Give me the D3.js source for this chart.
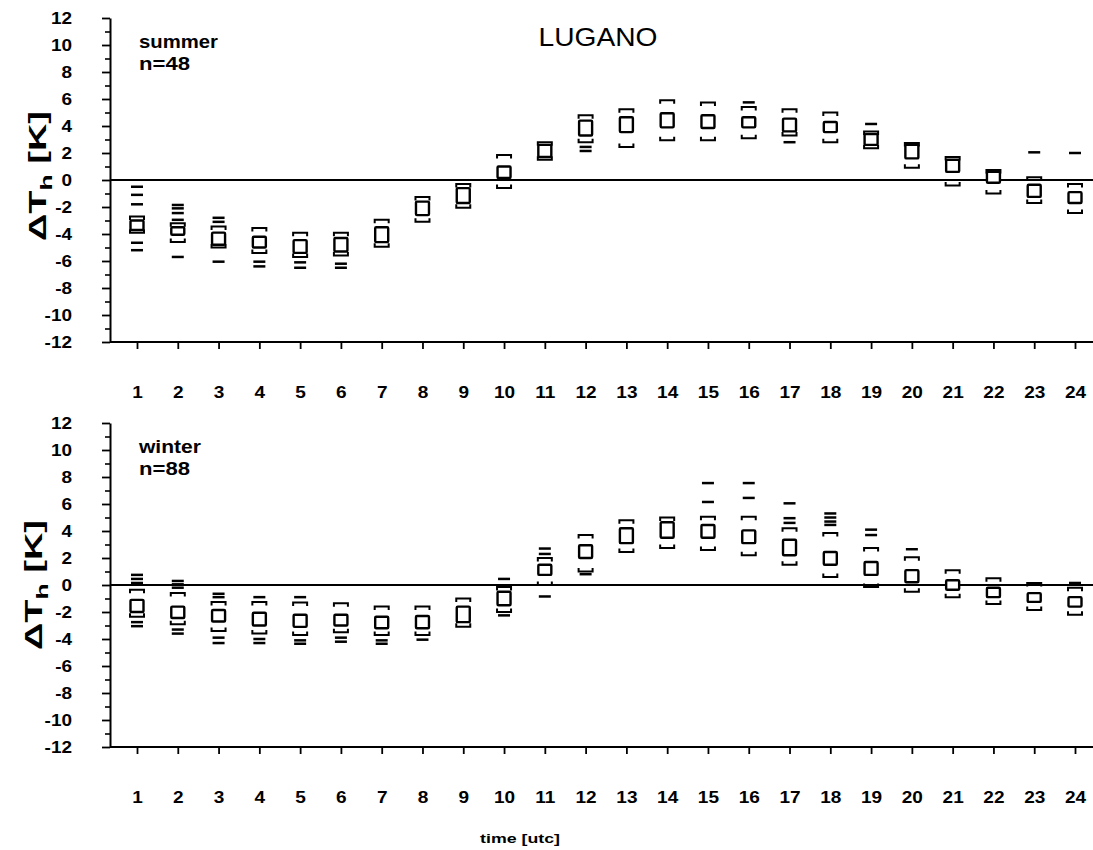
<!DOCTYPE html>
<html><head><meta charset="utf-8">
<script src="https://cdn.jsdelivr.net/npm/d3@7"></script>
<style>
body{margin:0;background:#fff;}
text{font-family:"Liberation Sans",Arial,Helvetica,sans-serif;fill:#000;}
</style></head>
<body><svg id="c" width="1093" height="850"></svg>
<script>
const hours = d3.range(1, 25);
const yTicks = d3.range(-12, 13, 2);
const yMinor = d3.range(-11, 12, 2);

// summer (n=48)
const summerHi = [-2.7,-3.2,-3.45,-3.55,-3.9,-3.9,-2.95,-1.25,-0.3,1.85,2.8,4.8,5.25,5.9,5.75,5.4,5.25,5.0,3.6,2.75,1.7,0.75,0.2,-0.3];
const summerQ3 = [-3.0,-3.5,-3.9,-4.2,-4.45,-4.3,-3.5,-1.6,-0.6,1.0,2.6,4.4,4.65,4.95,4.8,4.65,4.55,4.3,3.4,2.6,1.5,0.6,-0.35,-0.9];
const summerQ1 = [-3.7,-4.05,-4.8,-5.0,-5.4,-5.3,-4.6,-2.6,-1.7,0.15,1.7,3.3,3.55,3.9,3.85,3.9,3.6,3.55,2.6,1.6,0.6,-0.2,-1.25,-1.7];
const summerLo = [-3.9,-4.6,-5.0,-5.4,-5.7,-5.6,-4.95,-3.1,-2.05,-0.6,1.5,2.8,2.45,2.95,2.95,3.1,3.3,2.8,2.35,0.9,-0.4,-1.0,-1.7,-2.45];
const summerOut = [[-0.5,-1.1,-1.8,-4.65,-5.2],[-1.85,-2.1,-2.45,-2.95,-5.7],[-2.8,-3.1,-6.05],[-6.05,-6.4],[-6.1,-6.5],[-6.2,-6.5],[],[],[],[],[],[2.45,2.15],[],[],[],[5.75],[2.8],[],[4.15],[],[],[],[2.05],[2.0]];

// winter (n=88)
const winterHi = [-0.35,-0.6,-1.25,-1.25,-1.3,-1.35,-1.6,-1.6,-1.0,-0.15,2.0,3.7,4.8,5.0,5.05,5.05,4.2,3.85,2.75,2.05,1.1,0.5,0.15,-0.2];
const winterQ3 = [-1.1,-1.6,-1.85,-2.05,-2.2,-2.2,-2.35,-2.3,-1.6,-0.5,1.5,2.95,4.2,4.65,4.45,4.05,3.35,2.45,1.7,1.1,0.35,-0.2,-0.6,-0.9];
const winterQ1 = [-2.0,-2.45,-2.7,-3.0,-3.1,-3.0,-3.2,-3.2,-2.75,-1.5,0.75,2.0,3.1,3.5,3.5,3.1,2.2,1.5,0.75,0.2,-0.35,-0.9,-1.25,-1.6];
const winterLo = [-2.35,-2.9,-3.4,-3.6,-3.7,-3.5,-3.7,-3.7,-3.1,-2.0,0.0,1.0,2.45,2.75,2.6,2.2,1.5,0.6,-0.15,-0.5,-0.9,-1.4,-1.85,-2.2];
const winterOut = [[0.75,0.45,0.15,-2.75,-3.05],[0.3,0.05,-0.2,-3.3,-3.6],[-0.65,-0.9,-3.9,-4.3],[-0.9,-4.0,-4.3],[-0.9,-4.1,-4.35],[-3.9,-4.2],[-4.1,-4.35],[-4.05],[],[0.45,-2.25],[2.7,2.3,-0.85],[0.8],[],[],[7.55,6.15],[7.55,6.45],[6.05,4.95,4.6],[5.3,5.0,4.7,4.45],[4.1,3.7],[2.65],[],[],[],[0.15]];

const svg = d3.select("#c");
const W = 1093;

function stretch(sel, target){
  sel.each(function(){
    const t = d3.select(this);
    const len = this.getComputedTextLength();
    const k = target/len;
    const cur = t.attr("transform") || "";
    t.attr("transform", cur + ` scale(${k},1)`);
  });
}

function panel(cfg){
  const x = d3.scaleLinear().domain([1,24]).range([137,1075]);
  const y = d3.scaleLinear().domain([-12,12]).range([cfg.bottom, cfg.top]);
  const g = svg.append("g");
  const axX = 110;

  // y axis major
  const ya = g.append("g").attr("transform",`translate(${axX},0)`)
    .call(d3.axisLeft(y).tickValues(yTicks).tickSize(8).tickSizeOuter(0).tickPadding(31).tickFormat(d=>d));
  ya.select(".domain").attr("stroke-width",2);
  ya.selectAll(".tick line").attr("stroke-width",1.8);
  ya.selectAll("text").attr("font-size",16.5).attr("font-weight","bold").attr("font-family","Liberation Sans, Arial, sans-serif")
    .attr("x",0).attr("transform","translate(-38,0) scale(1.15,1)");
  // minor
  const ym = g.append("g").attr("transform",`translate(${axX},0)`)
    .call(d3.axisLeft(y).tickValues(yMinor).tickSize(5).tickFormat(""));
  ym.select(".domain").remove();
  ym.selectAll(".tick line").attr("stroke-width",1.6);

  // x axis
  const xa = g.append("g").attr("transform",`translate(0,${cfg.bottom})`)
    .call(d3.axisBottom(x).tickValues(hours).tickSize(7).tickPadding(37).tickFormat(d=>d));
  xa.select(".domain").remove();
  xa.selectAll(".tick line").attr("stroke-width",1.8);
  xa.selectAll("text").attr("font-size",17).attr("font-weight","bold").attr("font-family","Liberation Sans, Arial, sans-serif")
    .attr("transform","scale(1.12,1)");
  g.append("line").attr("x1",axX).attr("x2",W).attr("y1",cfg.bottom).attr("y2",cfg.bottom)
    .attr("stroke","#000").attr("stroke-width",2.2);
  // zero line
  g.append("line").attr("x1",axX).attr("x2",W).attr("y1",y(0)).attr("y2",y(0))
    .attr("stroke","#000").attr("stroke-width",2.2);

  const data = hours.map((h,i)=>({h, hi:cfg.hi[i], q3:cfg.q3[i], q1:cfg.q1[i], lo:cfg.lo[i], out:cfg.out[i]}));
  const bw = 7;
  const bx = g.append("g").selectAll("g").data(data).join("g")
    .attr("transform", d=>`translate(${x(d.h)},0)`);
  bx.append("path").attr("fill","none").attr("stroke","#000").attr("stroke-width",2)
    .attr("d", d=>`M${-bw},${y(d.hi)+3.5}V${y(d.hi)}H${bw}V${y(d.hi)+3.5}`);
  bx.append("path").attr("fill","none").attr("stroke","#000").attr("stroke-width",2)
    .attr("d", d=>`M${-bw},${y(d.lo)-3.5}V${y(d.lo)}H${bw}V${y(d.lo)-3.5}`);
  bx.append("rect").attr("x",-bw+0.5).attr("width",2*bw-1)
    .attr("y", d=>y(d.q3)).attr("height", d=>Math.max(2, y(d.q1)-y(d.q3)))
    .attr("fill","#fff").attr("stroke","#000").attr("stroke-width",2.4).attr("rx",1);
  bx.selectAll("line.out").data(d=>d.out).join("line").attr("class","out")
    .attr("x1",-6).attr("x2",6).attr("y1",v=>y(v)).attr("y2",v=>y(v))
    .attr("stroke","#000").attr("stroke-width",2.5);

  // labels
  const s1 = g.append("text").attr("font-size",19).attr("font-weight","bold")
    .attr("transform",`translate(139,${cfg.labY})`).text(cfg.season);
  stretch(s1, cfg.season==="summer"?79:62);
  const s2 = g.append("text").attr("font-size",19).attr("font-weight","bold")
    .attr("transform",`translate(139,${cfg.labY+22})`).text(cfg.n);
  stretch(s2, 51);

  // y label
  const yl = g.append("text").attr("font-size",23).attr("font-weight","bold").attr("text-anchor","middle")
    .attr("transform",`translate(${cfg.ylx},${cfg.yly}) rotate(-90)`);
  yl.append("tspan").text("ΔT");
  yl.append("tspan").attr("font-size",16).attr("dy",6).text("h");
  yl.append("tspan").attr("dy",-6).text(" [K]");
  stretch(yl, 130);
}

panel({top:18, bottom:342, hi:summerHi, q3:summerQ3, q1:summerQ1, lo:summerLo, out:summerOut,
  season:"summer", n:"n=48", labY:48, ylx:46, yly:176});
panel({top:423, bottom:747, hi:winterHi, q3:winterQ3, q1:winterQ1, lo:winterLo, out:winterOut,
  season:"winter", n:"n=88", labY:453, ylx:42, yly:585});

const t = svg.append("text").attr("font-size",26).attr("text-anchor","middle")
  .attr("transform","translate(598,46)").text("LUGANO");
stretch(t, 119);
const xl = svg.append("text").attr("font-size",13).attr("font-weight","bold").attr("text-anchor","middle")
  .attr("transform","translate(520,843)").text("time [utc]");
stretch(xl, 80);
</script></body></html>
